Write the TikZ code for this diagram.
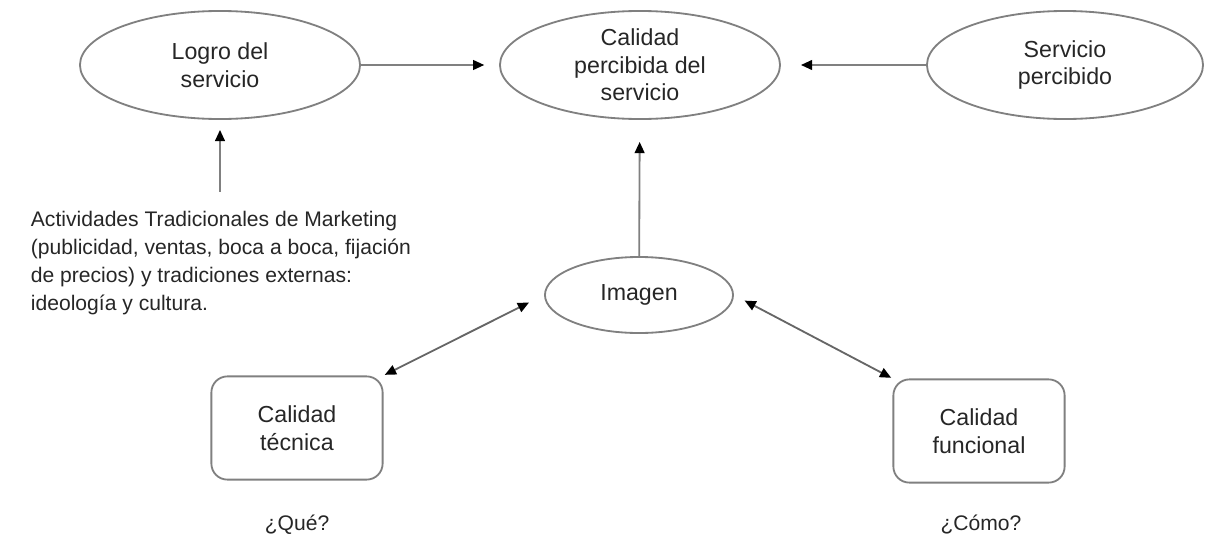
\documentclass[tikz,border=0pt]{standalone}
\usepackage{fontspec}
\setmainfont{Liberation Sans}
\usetikzlibrary{arrows.meta}
\usetikzlibrary{shapes}
\tikzset{
	every path/.style={line width=1.3pt},
	align=center,
	every node/.style={text=black!85},
	elip/.style={
		draw=black!50,
		ellipse,
		inner sep=0pt,
		font=\fontsize{16.5pt}{19.5pt}\selectfont,
	},
	caja/.style={
		draw=black!50,
		rectangle,
		rounded corners=4mm,
		inner sep=0pt,
		minimum width=4.28cm,
		minimum height=2.58cm,
		font=\fontsize{16.5pt}{20pt}\selectfont,
	},
	flecha/.style={
		draw=black!50,
		-{Triangle[length=8pt,width=7pt,color=black]}
	},
	doble/.style={
		draw=black!60,
		{Triangle[length=8pt,width=7pt,color=black]}-{Triangle[length=8pt,width=7pt,color=black]}
	},
	nota/.style={
		font=\fontsize{15pt}{20pt}\selectfont,
	},
}
\begin{document}
\begin{tikzpicture}[x=0.025cm,y=-0.025cm]
		\useasboundingbox (0,0) rectangle (1206,540);

		\node[elip,minimum width=7cm,minimum height=2.7cm]     (logro) at (220,65) {Logro del\\servicio};
		\node[elip,minimum width=7cm,minimum height=2.7cm]     (calidad) at (640,65) {Calidad\\percibida del\\servicio};
		\node[elip,minimum width=6.9cm,minimum height=2.7cm]   (servicio) at (1065,65) {Servicio\\percibido};
		\node[elip,minimum width=4.7cm,minimum height=1.9cm]   (imagen) at (639,295) {Imagen};
		\node[caja] (tecnica) at (297,428) {Calidad\\t\'ecnica};
		\node[caja] (funcional) at (979,431) {Calidad\\funcional};
		\node[nota,anchor=north west,align=left,inner sep=0pt] (activ) at (30,210) {Actividades Tradicionales de Marketing\\(publicidad, ventas, boca a boca, fijaci\'on\\de precios) y tradiciones externas:\\ideolog\'ia y cultura.};
		\node[nota] (que) at (297,525) {¿Qué?};
		\node[nota] (como) at (981,525) {¿Cómo?};

		\draw[flecha,shorten >=0.37cm] (logro) -- (calidad);
		\draw[flecha,shorten >=0.5cm] (servicio) -- (calidad);
		\draw[flecha,shorten >=0.55cm] (imagen) -- (calidad);
		\draw[flecha,shorten <=0.45cm,shorten >=0.25cm] (logro.south |- activ.north) -- (logro.south);
		\draw[doble,shorten <=1pt,shorten >=0.42cm] (tecnica.north east) -- (imagen.west);
		\draw[doble,shorten <=0.3cm,shorten >=1pt] (imagen.east) -- (funcional.north west);

	\end{tikzpicture}
\end{document}
